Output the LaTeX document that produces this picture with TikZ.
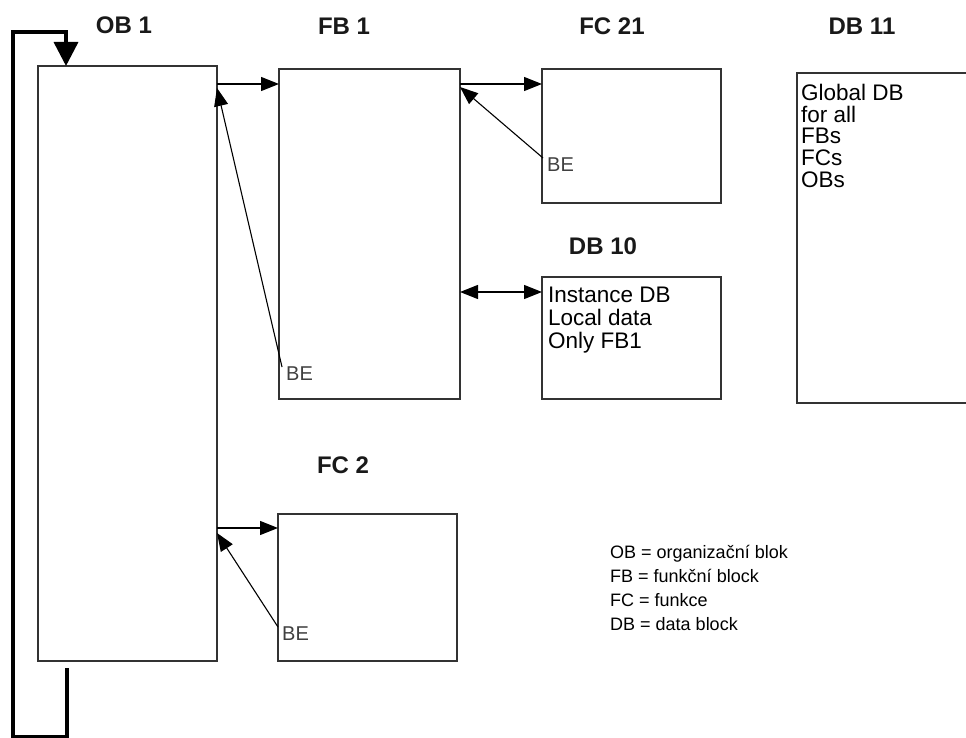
\documentclass[tikz,border=0pt]{standalone}
\usepackage{fontspec}
\setmainfont{Liberation Sans}
\usetikzlibrary{arrows.meta, positioning, calc}

\begin{document}
\begin{tikzpicture}[x=1pt, y=-1pt]
% Define styles
\tikzstyle{block} = [rectangle, draw=black!80, line width=1.2pt, inner sep=0pt, outer sep=0pt]
\tikzstyle{title} = [font=\fontsize{24}{24}\selectfont\bfseries, text=black!90]
\tikzstyle{boxtext} = [font=\fontsize{22.5}{23}\selectfont, align=left, inner sep=0pt, anchor=north west]
\tikzstyle{betext} = [font=\fontsize{20}{20}\selectfont, text=black!75, inner xsep=4pt, inner ysep=0pt, anchor=north west]
\tikzstyle{arrow} = [line width=1.3pt, -{Triangle[length=18pt, width=14pt]}]
\tikzstyle{dblarrow} = [line width=1.3pt, {Triangle[length=18pt, width=14pt]}-{Triangle[length=18pt, width=14pt]}]
\tikzstyle{retarrow} = [line width=1.1pt, -{Triangle[length=18pt, width=14pt]}]
\tikzstyle{loop} = [line width=3.5pt, line join=miter, -{Triangle[length=24pt, width=24pt]}]

\useasboundingbox (0,0) rectangle (966,738);

% Nodes
\node (ob1) [block, minimum width=179pt, minimum height=595pt] at (127.5,363.5) {};
\node (fb1) [block, minimum width=181pt, minimum height=330pt] at (369.5,234) {};
\node (fc21) [block, minimum width=179pt, minimum height=134pt] at (631.5,136) {};
\node (db10) [block, minimum width=179pt, minimum height=122pt] at (631.5,338) {};
\node (db11) [block, minimum width=193pt, minimum height=330pt] at (893.5,238) {};
\node (fc2) [block, minimum width=179pt, minimum height=147pt] at (367.5,587.5) {};

% Titles
\node (ob1title) [title] at (124,25) {OB 1};
\node (fb1title) [title] at (344,26) {FB 1};
\node (fc21title) [title] at (612,26) {FC 21};
\node (db11title) [title] at (862,26) {DB 11};
\node (db10title) [title] at (603,246) {DB 10};
\node (fc2title) [title] at (343,465) {FC 2};

% Texts
\node (db11text) [boxtext, font=\fontsize{22.5}{21.7}\selectfont] at (801,84) {Global DB\\for all\\FBs\\FCs\\OBs};
\node (db10text) [boxtext] at (548,287) {Instance DB\\Local data\\Only FB1};
\node (legend) [boxtext, font=\fontsize{18}{24}\selectfont] at (610,545) {OB = organizační blok\\FB = funkční block\\FC = funkce\\DB = data block};
\node (be1) [betext] at (282,367) {BE};
\node (be21) [betext] at (543,158) {BE};
\node (be2) [betext] at (278,627) {BE};

% Connections
\draw [arrow] (ob1.east |- 0,84) -- (fb1.west |- 0,84);
\draw [arrow] (fb1.east |- 0,84) -- (fc21.west |- 0,84);
\draw [arrow] (ob1.east |- 0,528) -- (fc2.west |- 0,528);
\draw [dblarrow] (fb1.east |- 0,292) -- (db10.west |- 0,292);
\draw [retarrow] (be1.north west) -- (ob1.east |- 0,88);
\draw [retarrow] (be21.north west) -- (fb1.east |- 0,87);
\draw [retarrow] (be2.north west) -- (ob1.east |- 0,533);

% Cycle loop
\coordinate (loopstart) at (67,668);
\coordinate (looptop) at (66,32);
\draw [loop] (loopstart) |- (13,737) -- (13,32) -- (looptop) -- (looptop |- ob1.north);

\end{tikzpicture}
\end{document}
